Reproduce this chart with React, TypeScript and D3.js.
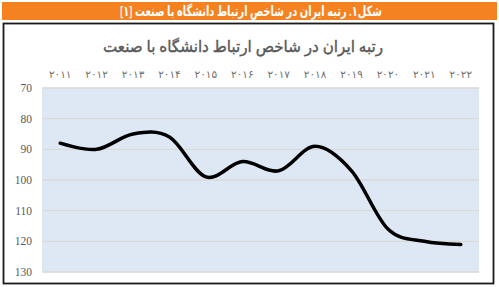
import React from "react";
import * as d3 from "d3";

const years = ["۲۰۱۱", "۲۰۱۲", "۲۰۱۳", "۲۰۱۴", "۲۰۱۵", "۲۰۱۶", "۲۰۱۷", "۲۰۱۸", "۲۰۱۹", "۲۰۲۰", "۲۰۲۱", "۲۰۲۲"];
const ranks = [88, 90, 85, 86, 99, 94, 97, 89, 97, 116, 120, 121];
const yTicks = [70, 80, 90, 100, 110, 120, 130];
const bannerTitle = "شکل۱. رتبه ایران در شاخص ارتباط دانشگاه با صنعت [۱]";
const chartTitle = "رتبه ایران در شاخص ارتباط دانشگاه با صنعت";

const W = 499;
const H = 287;
const plot = { left: 42, right: 479, top: 88, bottom: 272 };

export default function App() {
  const x = d3.scaleBand<string>().domain(years).range([plot.left, plot.right]);
  const y = d3.scaleLinear().domain([70, 130]).range([plot.top, plot.bottom]);
  const line = d3
    .line<number>()
    .x((_, i) => (x(years[i]) as number) + x.bandwidth() / 2)
    .y((d) => y(d))
    .curve(d3.curveCardinal.tension(0));

  return (
    <svg
      width={W}
      height={H}
      style={{ position: "absolute", left: 0, top: 0, background: "#fff" }}
    >
      <rect x={2} y={2} width={495} height={18} fill="#F58220" />
      <text
        x={251}
        y={16}
        textAnchor="middle"
        direction="rtl"
        fill="#fff"
        fontFamily="'Noto Sans', 'DejaVu Sans', sans-serif"
        fontSize={14}
        fontWeight={600}
        textLength={262}
        lengthAdjust="spacingAndGlyphs"
      >
        {bannerTitle}
      </text>
      <rect x={3.5} y={23.5} width={490} height={260} fill="#fff" stroke="#1a1a1a" strokeWidth={1.8} />
      <text
        x={243}
        y={52}
        textAnchor="middle"
        direction="rtl"
        fill="#595959"
        stroke="#595959"
        strokeWidth={0.4}
        fontFamily="'Noto Sans', 'DejaVu Sans', sans-serif"
        fontSize={16}
        textLength={280}
        lengthAdjust="spacingAndGlyphs"
      >
        {chartTitle}
      </text>
      <rect
        x={plot.left}
        y={plot.top}
        width={plot.right - plot.left}
        height={plot.bottom - plot.top}
        fill="#DEE8F4"
      />
      {yTicks.map((t) => (
        <g key={t}>
          <line x1={plot.left} x2={plot.right} y1={y(t)} y2={y(t)} stroke="#D9D9D9" strokeWidth={1.3} />
          <text
            x={32}
            y={y(t) + 4}
            textAnchor="end"
            fill="#595959"
            fontFamily="'Liberation Serif', 'DejaVu Serif', serif"
            fontSize={11.5}
          >
            {t}
          </text>
        </g>
      ))}
      {years.map((yr) => (
        <text
          key={yr}
          x={(x(yr) as number) + x.bandwidth() / 2}
          y={78}
          textAnchor="middle"
          fill="#6f6f6f"
          fontFamily="'DejaVu Sans', sans-serif"
          fontSize={10.5}
          letterSpacing={2}
        >
          {yr}
        </text>
      ))}
      <path d={line(ranks) || ""} fill="none" stroke="#000" strokeWidth={3.5} strokeLinecap="round" />
    </svg>
  );
}
